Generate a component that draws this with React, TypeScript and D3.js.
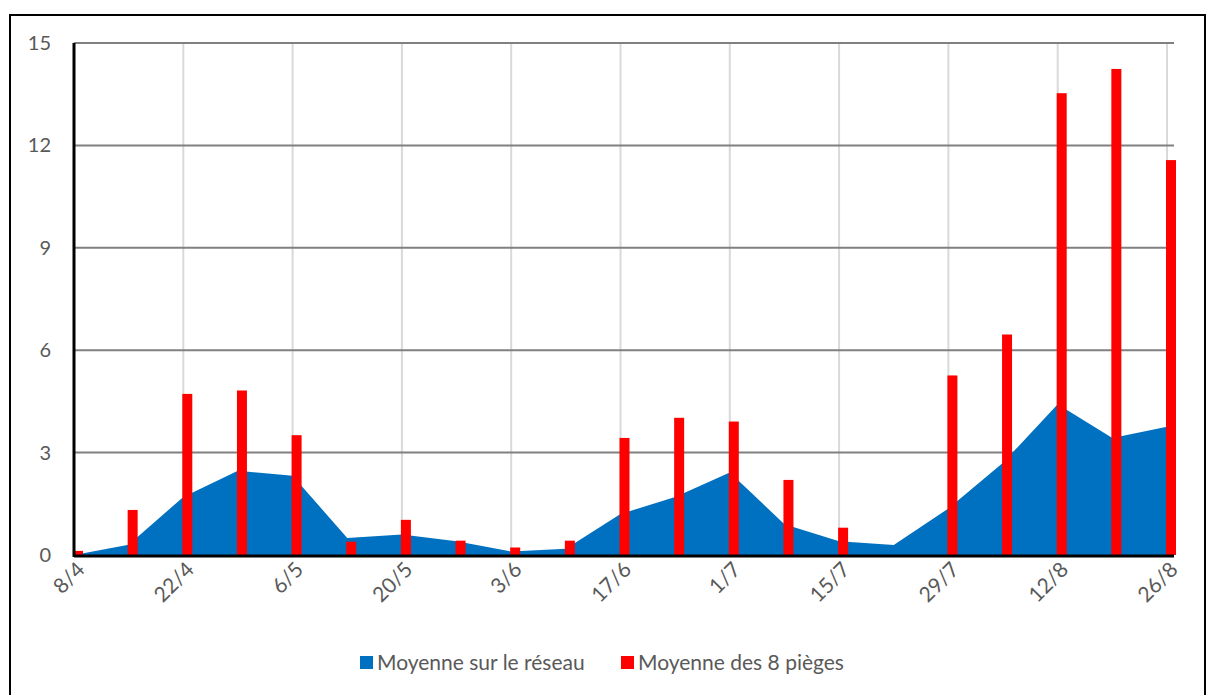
import React, { useEffect, useRef } from 'react';
import * as d3 from 'd3';

const dates = ['8/4', '15/4', '22/4', '29/4', '6/5', '13/5', '20/5', '27/5', '3/6', '10/6', '17/6', '24/6', '1/7', '8/7', '15/7', '22/7', '29/7', '5/8', '12/8', '19/8', '26/8'];
const reseau = [0, 0.3, 1.7, 2.47, 2.32, 0.5, 0.6, 0.4, 0.1, 0.18, 1.2, 1.7, 2.42, 0.9, 0.4, 0.29, 1.36, 2.7, 4.42, 3.43, 3.76];
const pieges = [0.12, 1.32, 4.72, 4.82, 3.51, 0.39, 1.03, 0.42, 0.22, 0.42, 3.43, 4.02, 3.91, 2.2, 0.8, 0, 5.26, 6.46, 13.53, 14.24, 11.57];
const yTicks = [0, 3, 6, 9, 12, 15];
const labelled = dates.filter((_, i) => i % 2 === 0);

export default function App() {
  const svgRef = useRef<SVGSVGElement>(null);

  useEffect(() => {
    document.body.style.margin = '0';
    if (!svgRef.current) return;
    const svg = d3.select(svgRef.current);
    svg.selectAll('*').remove();

    const left = 74, right = 1174, top = 43, bottom = 555;
    const x = d3.scalePoint<string>().domain(dates).range([left, 1167]);
    const y = d3.scaleLinear().domain([0, 15]).range([bottom, top]);
    const font = 'Lato, "Open Sans", sans-serif';
    const grey = '#595959';

    // frame
    svg.append('rect').attr('x', 10).attr('y', 15).attr('width', 1195).attr('height', 685)
      .attr('fill', 'white').attr('stroke', 'black').attr('stroke-width', 2);

    // vertical gridlines
    svg.append('g').selectAll('line').data(labelled).enter().append('line')
      .attr('x1', d => x(d)!).attr('x2', d => x(d)!)
      .attr('y1', top).attr('y2', bottom)
      .attr('stroke', '#d9d9d9').attr('stroke-width', 2);

    // horizontal gridlines
    svg.append('g').selectAll('line').data(yTicks.slice(1)).enter().append('line')
      .attr('x1', left).attr('x2', right)
      .attr('y1', d => y(d)).attr('y2', d => y(d))
      .attr('stroke', '#808080').attr('stroke-width', 2);

    // area
    const area = d3.area<number>()
      .x((_, i) => x(dates[i])!)
      .y0(y(0))
      .y1(d => y(d));
    svg.append('path').datum(reseau).attr('d', area).attr('fill', '#0070c0');

    // bars
    svg.append('g').selectAll('rect').data(pieges).enter().append('rect')
      .attr('x', (_, i) => x(dates[i])! - 1)
      .attr('width', 10)
      .attr('y', d => y(d))
      .attr('height', d => y(0) - y(d))
      .attr('fill', '#ff0000');

    // axes lines
    svg.append('line').attr('x1', left).attr('x2', left).attr('y1', top).attr('y2', bottom + 2)
      .attr('stroke', 'black').attr('stroke-width', 3);
    svg.append('line').attr('x1', left).attr('x2', right).attr('y1', bottom + 1).attr('y2', bottom + 1)
      .attr('stroke', 'black').attr('stroke-width', 3);

    // y labels
    svg.append('g').selectAll('text').data(yTicks).enter().append('text')
      .attr('x', 51).attr('y', d => y(d) + 7)
      .attr('text-anchor', 'end')
      .attr('font-family', font).attr('font-size', 20).attr('fill', grey)
      .text(d => d);

    // x labels
    svg.append('g').selectAll('text').data(labelled).enter().append('text')
      .attr('transform', d => `translate(${x(d)! + 12},${bottom + 16}) rotate(-45)`)
      .attr('text-anchor', 'end')
      .attr('font-family', font).attr('font-size', 21).attr('fill', grey)
      .text(d => d);

    // legend
    const legend = [
      { label: 'Moyenne sur le réseau', color: '#0070c0', x: 360 },
      { label: 'Moyenne des 8 pièges', color: '#ff0000', x: 621 },
    ];
    const lg = svg.append('g');
    legend.forEach(l => {
      lg.append('rect').attr('x', l.x).attr('y', 656).attr('width', 13).attr('height', 13).attr('fill', l.color);
      lg.append('text').attr('x', l.x + 17).attr('y', 670)
        .attr('font-family', font).attr('font-size', 21).attr('fill', grey)
        .text(l.label);
    });
  }, []);

  return <svg ref={svgRef} width={1206} height={695} style={{ display: 'block' }} />;
}
